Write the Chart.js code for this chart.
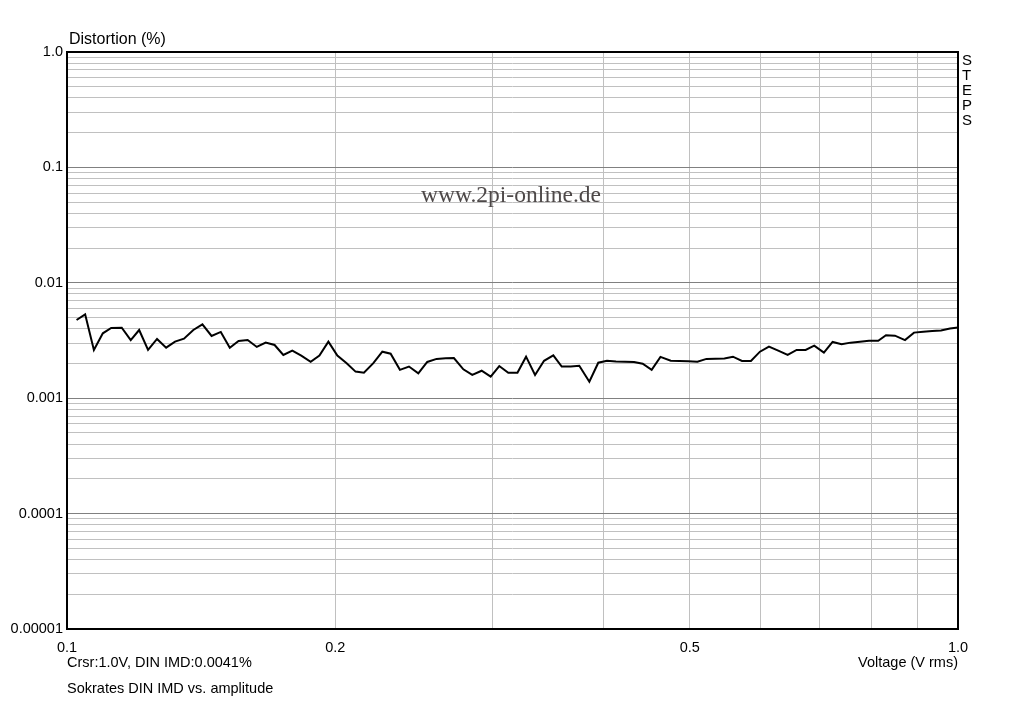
<!DOCTYPE html>
<html>
<head>
<meta charset="utf-8">
<script src="https://cdn.jsdelivr.net/npm/chart.js@4.4.1/dist/chart.umd.min.js"></script>
<style>
  html, body { margin: 0; padding: 0; background: #fff; }
  #wrap { width: 1024px; height: 701px; position: relative; }
</style>
</head>
<body>
<div id="wrap"><canvas id="c" width="1024" height="701"></canvas></div>
<script>
// Sokrates DIN IMD vs. amplitude
const voltage = [
  0.1025, 0.1048, 0.1072, 0.1097, 0.1121, 0.1152, 0.1179, 0.1205, 0.1233, 0.1262,
  0.1292, 0.1322, 0.1353, 0.1386, 0.1419, 0.1453, 0.1488, 0.1523, 0.1558, 0.1595,
  0.1633, 0.1671, 0.1710, 0.1749, 0.1790, 0.1832, 0.1877, 0.1920, 0.1965, 0.2011,
  0.2060, 0.2108, 0.2154, 0.2207, 0.2259, 0.2308, 0.2364, 0.2420, 0.2479, 0.2537,
  0.2599, 0.2661, 0.2718, 0.2785, 0.2850, 0.2920, 0.2989, 0.3056, 0.3128, 0.3203,
  0.3275, 0.3352, 0.3431, 0.3514, 0.3591, 0.3676, 0.3758, 0.3857, 0.3947, 0.4037,
  0.4132, 0.4229, 0.4329, 0.4427, 0.4531, 0.4635, 0.4760, 0.4868, 0.4983, 0.5100,
  0.5220, 0.5343, 0.5468, 0.5590, 0.5722, 0.5856, 0.5994, 0.6135, 0.6284, 0.6439,
  0.6590, 0.6745, 0.6897, 0.7071, 0.7232, 0.7402, 0.7576, 0.7762, 0.7945, 0.8137,
  0.8302, 0.8497, 0.8720, 0.8925, 0.9143, 0.9355, 0.9570, 0.9795, 1.0
];
const imd = [
  0.00476, 0.00533, 0.00262, 0.00365, 0.00406, 0.00408, 0.00319, 0.00390, 0.00262, 0.00326,
  0.00274, 0.00309, 0.00328, 0.00390, 0.00437, 0.00346, 0.00375, 0.00274, 0.00313, 0.00319,
  0.00278, 0.00303, 0.00289, 0.00237, 0.00258, 0.00234, 0.00207, 0.00234, 0.00309, 0.00234,
  0.00201, 0.00170, 0.00166, 0.00201, 0.00253, 0.00243, 0.00176, 0.00188, 0.00164, 0.00206,
  0.00219, 0.00222, 0.00223, 0.00178, 0.00159, 0.00173, 0.00154, 0.00190, 0.00166, 0.00166,
  0.00229, 0.00159, 0.00211, 0.00235, 0.00188, 0.00188, 0.00191, 0.00139, 0.00203, 0.00211,
  0.00208, 0.00207, 0.00206, 0.00199, 0.00176, 0.00228, 0.00211, 0.00210, 0.00209, 0.00207,
  0.00219, 0.00220, 0.00221, 0.00229, 0.00210, 0.00210, 0.00253, 0.00280, 0.00258, 0.00237,
  0.00262, 0.00262, 0.00285, 0.00248, 0.00307, 0.00293, 0.00303, 0.00309, 0.00315, 0.00315,
  0.00351, 0.00348, 0.00319, 0.00370, 0.00377, 0.00382, 0.00386, 0.00402, 0.0041
];

// axis ticks
const xGrid = [0.1, 0.2, 0.3, 0.4, 0.5, 0.6, 0.7, 0.8, 0.9, 1.0];
const xLabels = { 0.1: "0.1", 0.2: "0.2", 0.5: "0.5", 1: "1.0" };
const yDecades = [0.00001, 0.0001, 0.001, 0.01, 0.1, 1];
const yLabels = ["0.00001", "0.0001", "0.001", "0.01", "0.1", "1.0"];

const FONT = "Liberation Sans, Arial, sans-serif";

function yGridValues() {
  const out = [];
  for (let d = 0; d < yDecades.length - 1; d++) {
    for (let m = 1; m <= 9; m++) out.push(+(yDecades[d] * m).toPrecision(3));
  }
  out.push(1);
  return out;
}

function isDecade(v) {
  return yDecades.some(d => Math.abs(v / d - 1) < 1e-6);
}

const frameAndText = {
  id: "frameAndText",
  beforeDatasetsDraw(chart) {
    const { ctx } = chart;
    ctx.save();
    ctx.font = "23.5px 'Liberation Serif', 'Times New Roman', serif";
    ctx.fillStyle = "#4d4848";
    ctx.textAlign = "center";
    ctx.textBaseline = "middle";
    ctx.fillText("www.2pi-online.de", 511, 196);
    ctx.restore();
  },
  afterDraw(chart) {
    const { ctx, chartArea: a } = chart;
    ctx.save();
    ctx.strokeStyle = "#000";
    ctx.lineWidth = 2;
    ctx.strokeRect(a.left, a.top, a.right - a.left, a.bottom - a.top);

    ctx.fillStyle = "#000";
    ctx.textBaseline = "alphabetic";
    ctx.textAlign = "left";
    ctx.font = "16px " + FONT;
    ctx.fillText("Distortion (%)", 69, 44);
    ctx.font = "14.5px " + FONT;
    ctx.fillText("Crsr:1.0V, DIN IMD:0.0041%", 67, 667);
    ctx.fillText("Sokrates DIN IMD vs. amplitude", 67, 693);
    ctx.textAlign = "right";
    ctx.fillText("Voltage (V rms)", 958, 667);

    ctx.textAlign = "left";
    ctx.font = "15px " + FONT;
    const steps = "STEPS";
    for (let i = 0; i < steps.length; i++) {
      ctx.fillText(steps[i], 962, 65 + i * 15);
    }
    ctx.restore();
  }
};

new Chart(document.getElementById("c"), {
  type: "line",
  data: {
    datasets: [{
      data: voltage.map((v, i) => ({ x: v, y: imd[i] })),
      borderColor: "#000",
      borderWidth: 2,
      pointRadius: 0,
      tension: 0,
      fill: false
    }]
  },
  options: {
    responsive: false,
    animation: false,
    layout: { padding: { top: 52, left: 0, right: 66, bottom: 0 } },
    plugins: {
      legend: { display: false },
      tooltip: { enabled: false }
    },
    scales: {
      x: {
        type: "logarithmic",
        min: 0.1,
        max: 1,
        afterFit(s) { s.height = 72; },
        afterBuildTicks(s) { s.ticks = xGrid.map(v => ({ value: v })); },
        grid: { color: "#c0c0c0", lineWidth: 1, drawTicks: false },
        border: { display: false },
        ticks: {
          autoSkip: false,
          maxRotation: 0,
          padding: 10,
          color: "#000",
          font: { family: FONT, size: 14.5 },
          callback: v => xLabels[+v.toFixed(1)] || ""
        }
      },
      y: {
        type: "logarithmic",
        min: 0.00001,
        max: 1,
        afterFit(s) { s.width = 67; },
        afterBuildTicks(s) { s.ticks = yGridValues().map(v => ({ value: v })); },
        grid: {
          drawTicks: false,
          color: c => isDecade(c.tick.value) ? "#808080" : "#c0c0c0",
          lineWidth: 1
        },
        border: { display: false },
        ticks: {
          autoSkip: false,
          padding: 4,
          color: "#000",
          font: { family: FONT, size: 14.5 },
          callback: v => {
            const i = yDecades.findIndex(d => Math.abs(v / d - 1) < 1e-6);
            return i >= 0 ? yLabels[i] : "";
          }
        }
      }
    }
  },
  plugins: [frameAndText]
});
</script>
</body>
</html>
